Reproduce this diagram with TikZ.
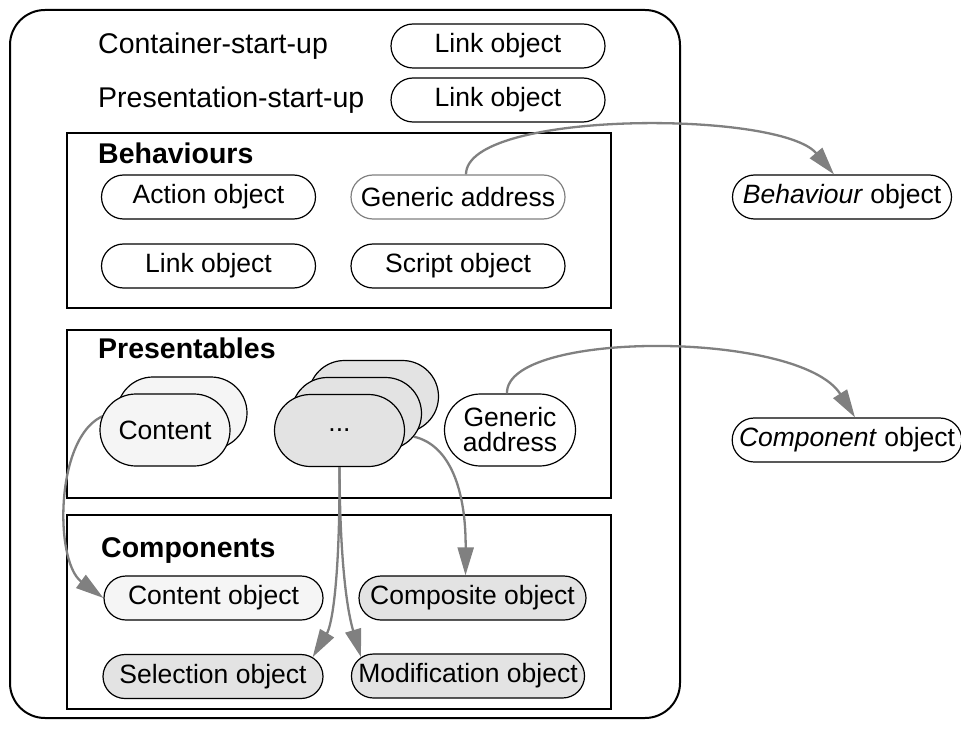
\documentclass[tikz,border=0pt]{standalone}
\usepackage{fontspec}
\setmainfont{Liberation Sans}
\usetikzlibrary{shapes.misc,arrows.meta}

\tikzset{
  txt/.style={font=\fontsize{26.5}{25}\selectfont},
  label/.style={font=\fontsize{28.5}{30}\selectfont, inner sep=0pt, anchor=west},
  pill/.style={txt, draw, line width=1.2pt, rounded rectangle, minimum width=220pt,
    minimum height=44pt, inner xsep=3pt, inner ysep=0pt},
  lightpill/.style={pill, fill=gray!8},
  darkpill/.style={pill, fill=gray!22},
  bigpill/.style={pill, minimum width=136pt, minimum height=72pt},
  title/.style={font=\fontsize{28.5}{30}\selectfont\bfseries, anchor=base west, inner sep=0pt},
  box/.style={draw, line width=1.3pt},
  arr/.style={draw=gray, line width=2.3pt, -{Triangle[length=28pt,width=16pt]}},
}

\def\outerframe{(10,10) rectangle (680,718)}

\begin{document}
\begin{tikzpicture}[x=1pt,y=-1pt]
\useasboundingbox (0,0) rectangle (961,730);
\draw[line width=2pt, rounded corners=35pt] \outerframe;

\node[label] (cstart) at (98,46) {Container-start-up};
\node[pill] (clink) at (498,46) {Link object};
\node[label] (pstart) at (98,100) {Presentation-start-up};
\node[pill] (plink) at (498,100) {Link object};

% behaviours
\draw[box] (67,133) rectangle (611,308);
\node[title] (behtitle) at (98,164) {Behaviours};
\node[pill] (action) at (208.5,197) {Action object};
\node[pill, draw=gray] (behaddr) at (458,197) {Generic address};
\node[pill] (blink) at (208.5,266) {Link object};
\node[pill] (script) at (458,266) {Script object};
\node[pill, minimum width=225pt] (behobj) at (842,197) {\textit{Behaviour} object};

% components
\draw[box] (67,515) rectangle (611,709);
\node[title] (comptitle) at (101,557) {Components};
\node[lightpill, minimum width=225pt] (contobj) at (213.5,598) {Content object};
\node[darkpill, minimum width=233pt] (compobj) at (472.5,598) {Composite object};
\node[darkpill, minimum width=226pt] (selobj) at (213,676.5) {Selection object};
\node[darkpill, minimum width=232pt] (modobj) at (468,676) {Modification object};

% presentables
\draw[box] (67,330) rectangle (611,498);
\node[title] (prestitle) at (98,358) {Presentables};
\node[bigpill, fill=gray!8] (contback) at (182,413) {};
\draw[arr] (contback.west) .. controls (55,415) and (52,560) .. (contobj.west);
\node[bigpill, fill=gray!8] (content) at (165,430) {Content};
\node[bigpill, fill=gray!22] (dotstop) at (373.5,396.5) {};
\node[bigpill, fill=gray!22] (dotsmid) at (356.5,413.5) {};
\node[bigpill, fill=gray!22] (dots) at (339.5,430.5) {...};
\node[bigpill, minimum width=137pt, align=center] (presaddr) at (510,430) {Generic\\address};
\node[pill, minimum width=224pt] (compout) at (847,440) {\textit{Component} object};

\draw[arr] ([xshift=8pt]behaddr.north) .. controls (466,110) and (780,110) .. ([xshift=-8pt]behobj.north);
\draw[arr] ([xshift=-3pt]presaddr.north) .. controls (505,330) and (800,330) .. ([xshift=8pt]compout.north);
\draw[arr] (dotsmid.-22) .. controls (450,445) and (466,490) .. ([xshift=-7pt]compobj.north);
\draw[arr] (dots.south) .. controls (340,580) and (332,625) .. (selobj.11);
\draw[arr] (dots.south) .. controls (340,580) and (350,620) .. (modobj.170);
\end{tikzpicture}
\end{document}
